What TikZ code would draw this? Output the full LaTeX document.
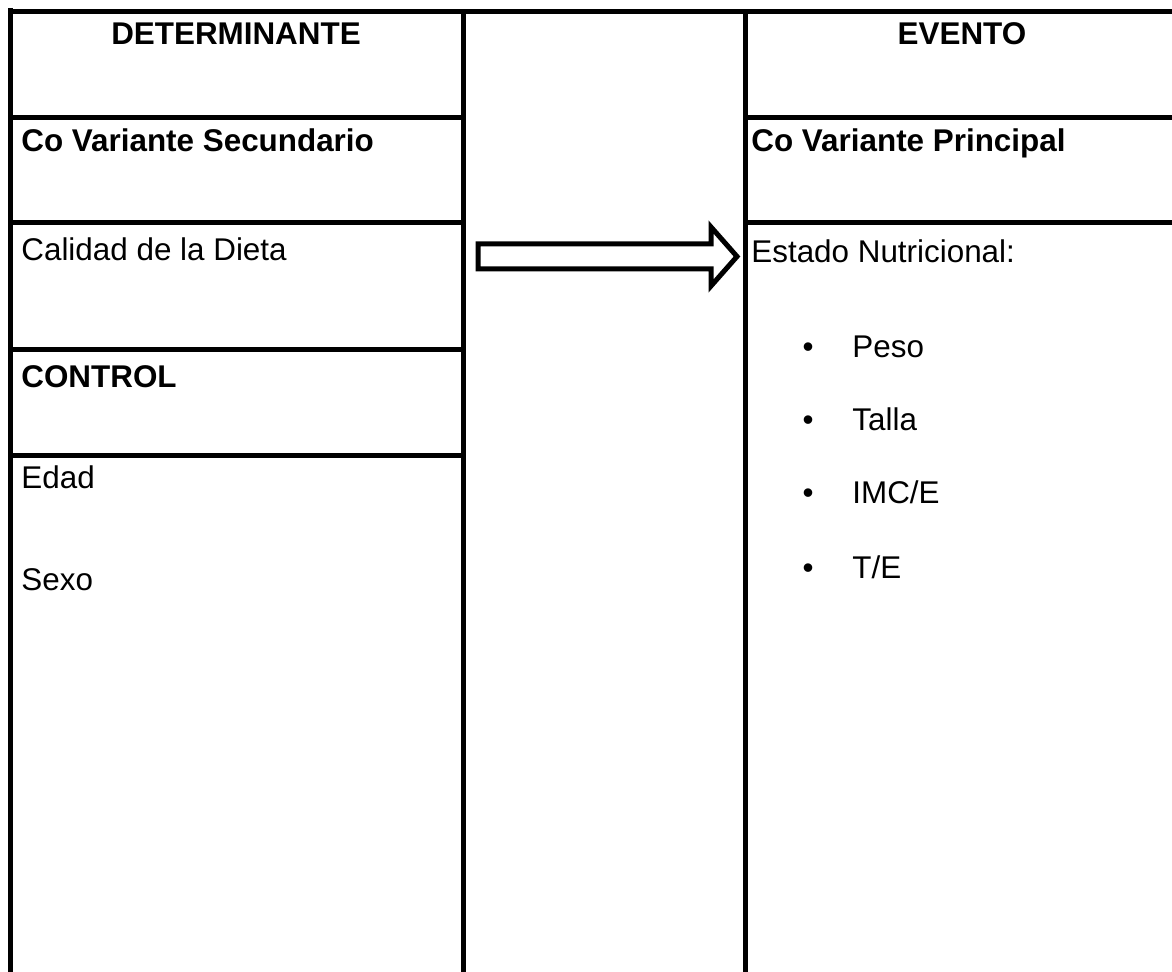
\documentclass[tikz,border=0pt]{standalone}
\usepackage{fontspec}
\setmainfont{Liberation Sans}
\usepackage{tikz}

\begin{document}
\begin{tikzpicture}[x=0.5pt, y=-0.5pt,
    borde/.style={line width=2.5pt},
    texto/.style={inner sep=0pt, anchor=base west, font=\fontsize{15.7}{19}\selectfont},
    negrita/.style={texto, font=\fontsize{15.7}{19}\selectfont\bfseries},
    titulo/.style={negrita, anchor=base}]
    \useasboundingbox (0,0) rectangle (1172,972);

    % Table frame
    \draw[borde] (8,11.5) -- (1172,11.5);
    \draw[borde] (10.5,8) -- (10.5,972);
    \draw[borde] (463.5,11.5) -- (463.5,972);
    \draw[borde] (745,11.5) -- (745,972);

    % Rows
    \foreach \y in {117.5,222.5,350,455.5}
        \draw[borde] (10.5,\y) -- (463.5,\y);
    \foreach \y in {117.5,222.5}
        \draw[borde] (745,\y) -- (1172,\y);

    % Left column
    \node[titulo] (det) at (236,45) {DETERMINANTE};
    \node[negrita] (cosec) at (21,152) {Co Variante Secundario};
    \node[texto] (dieta) at (21,261) {Calidad de la Dieta};
    \node[negrita] (control) at (21,388) {CONTROL};
    \node[texto] (edad) at (21,489) {Edad};
    \node[texto] (sexo) at (21,590) {Sexo};

    % Right column
    \node[titulo] (evento) at (962,45) {EVENTO};
    \node[negrita] (coprin) at (751,152) {Co Variante Principal};
    \node[texto] (estado) at (751,263) {Estado Nutricional:};
    \foreach \t/\y [count=\i] in {Peso/358, Talla/431, IMC\slash E/504, T\slash E/578} {
        \node[texto, anchor=base] (bala\i) at (808,\y) {\textbullet};
        \node[texto] (item\i) at (852,\y) {\t};
    }

    % Block arrow
    \draw[borde] (478,244) -- (711,244) -- (711,227) -- (737,256.5)
        -- (711,286) -- (711,269) -- (478,269) -- cycle;
\end{tikzpicture}
\end{document}
